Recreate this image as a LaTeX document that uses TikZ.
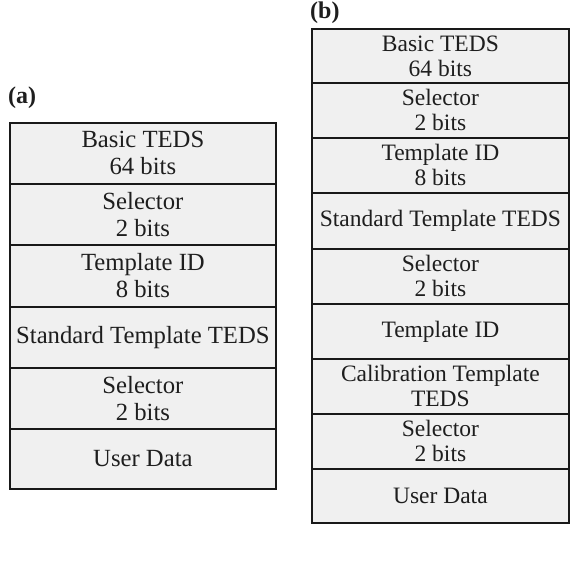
\documentclass[tikz,border=0pt]{standalone}
\usepackage{fontspec}
\setmainfont{Liberation Serif}
\definecolor{cellfill}{RGB}{240,240,240}
\definecolor{edge}{RGB}{25,25,25}
\definecolor{ink}{RGB}{30,30,30}
\begin{document}
\begin{tikzpicture}[x=1pt,y=-1pt,
  cella/.style={draw=edge,fill=cellfill,line width=1.8pt,anchor=north west,
    minimum width=266pt,minimum height=61pt,inner sep=0pt,align=center,
    text=ink,font=\fontsize{24.7}{27}\selectfont},
  cellb/.style={draw=edge,fill=cellfill,line width=1.8pt,anchor=north west,
    minimum width=257pt,minimum height=55pt,inner sep=0pt,align=center,
    text=ink,font=\fontsize{23.5}{25}\selectfont},
  tag/.style={anchor=west,inner sep=0pt,text=ink,font=\fontsize{24}{26}\selectfont\bfseries}]
\useasboundingbox (0,0) rectangle (570,583);
% (a)
\node[tag] (ta) at (8,98) {(a)};
\node[cella,minimum height=61pt] (a1) at (9,122) {Basic TEDS\\64 bits};
\node[cella,minimum height=61pt] (a2) at (9,183) {Selector\\2 bits};
\node[cella,minimum height=62pt] (a3) at (9,244) {Template ID\\8 bits};
\node[cella,minimum height=61pt] (a4) at (9,306) {Standard Template TEDS};
\node[cella,minimum height=61pt] (a5) at (9,367) {Selector\\2 bits};
\node[cella,minimum height=60pt] (a6) at (9,428) {User Data};
% (b)
\node[tag] (tb) at (310,13) {(b)};
\node[cellb,minimum height=54pt] (b1) at (311,28) {Basic TEDS\\64 bits};
\node[cellb,minimum height=55pt] (b2) at (311,82) {Selector\\2 bits};
\node[cellb,minimum height=55pt] (b3) at (311,137) {Template ID\\8 bits};
\node[cellb,minimum height=56pt] (b4) at (311,192) {Standard Template TEDS};
\node[cellb,minimum height=55pt] (b5) at (311,248) {Selector\\2 bits};
\node[cellb,minimum height=55pt] (b6) at (311,303) {Template ID};
\node[cellb,minimum height=55pt] (b7) at (311,358) {Calibration Template\\TEDS};
\node[cellb,minimum height=55pt] (b8) at (311,413) {Selector\\2 bits};
\node[cellb,minimum height=54pt] (b9) at (311,468) {User Data};
\end{tikzpicture}
\end{document}
